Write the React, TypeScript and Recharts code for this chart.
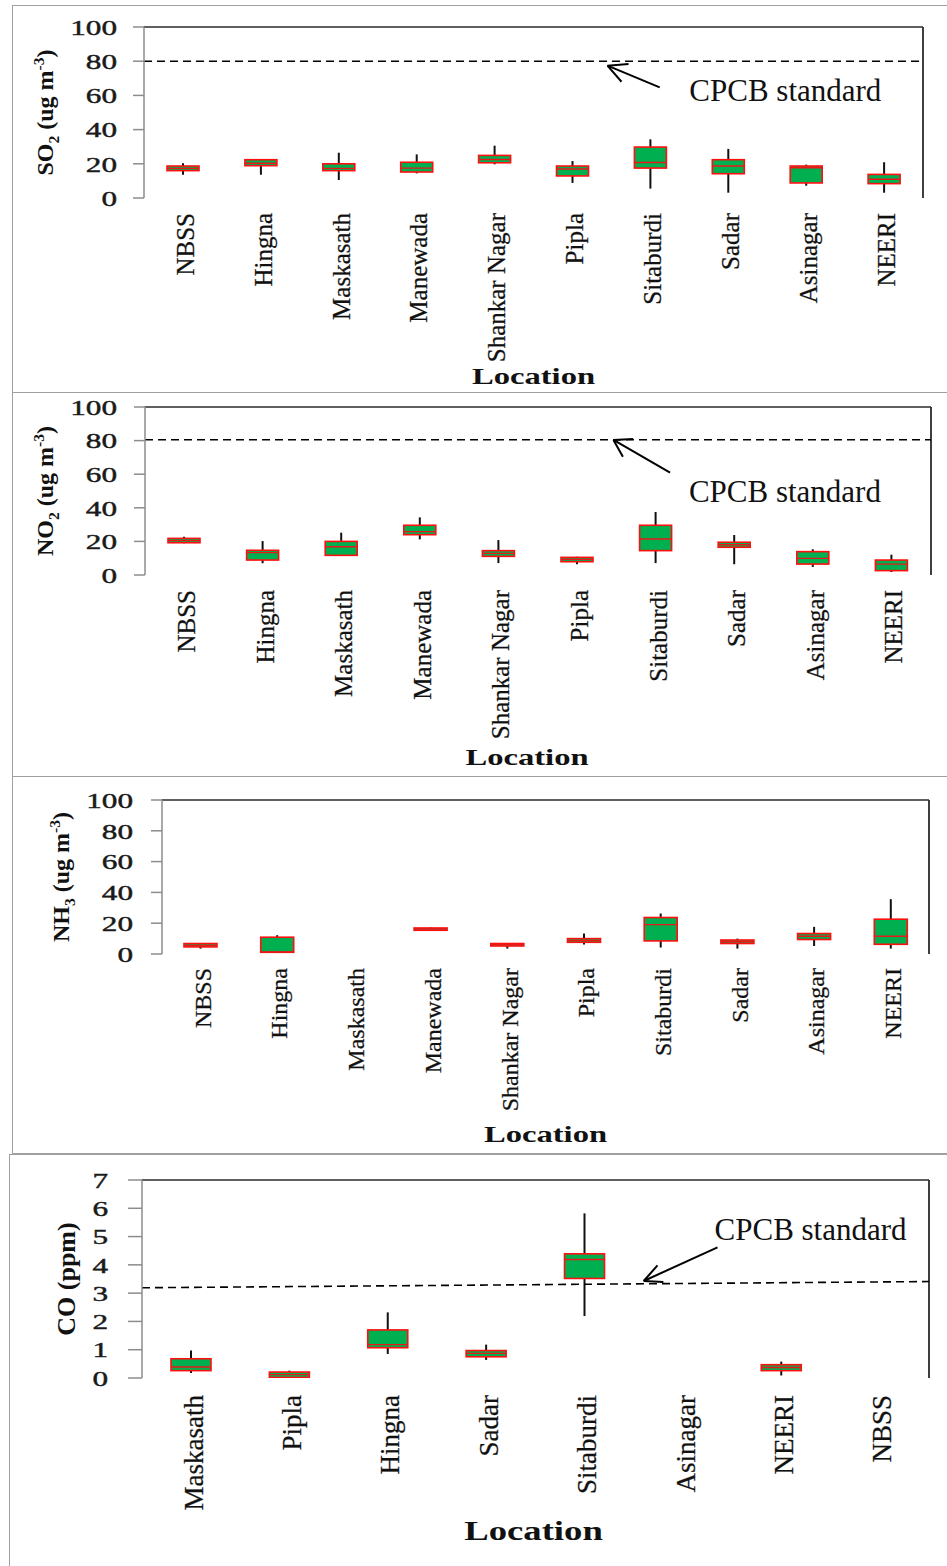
import React from 'react';
import { ComposedChart, Bar, XAxis, YAxis, ReferenceLine, ReferenceDot } from 'recharts';

const SERIF = '"Liberation Serif", "Times New Roman", serif';

// ---------- categories ----------
const LOCATIONS = ['NBSS', 'Hingna', 'Maskasath', 'Manewada', 'Shankar Nagar', 'Pipla', 'Sitaburdi', 'Sadar', 'Asinagar', 'NEERI'];
const CO_LOCATIONS = ['Maskasath', 'Pipla', 'Hingna', 'Sadar', 'Sitaburdi', 'Asinagar', 'NEERI', 'NBSS'];

// ---------- SO2 (ug m-3) ----------
const SO2_MIN = [13.6, 13.6, 10.5, 14.4, 19.7, 8.8, 5.5, 3.1, 7.2, 3.1];
const SO2_Q1 = [16.0, 18.9, 16.0, 15.2, 20.6, 12.9, 17.5, 14.2, 8.8, 8.4];
const SO2_MED = [17.3, 20.3, 17.3, 17.5, 22.5, 17.0, 20.8, 18.7, 17.7, 11.0];
const SO2_Q3 = [18.7, 22.4, 20.0, 20.9, 24.9, 18.7, 29.8, 22.4, 18.7, 13.8];
const SO2_MAX = [20.3, 22.8, 26.5, 25.5, 30.6, 21.6, 34.3, 28.7, 19.5, 20.9];

// ---------- NO2 (ug m-3) ----------
const NO2_MIN = [18.9, 7.0, 11.5, 21.2, 7.1, 6.4, 7.1, 6.4, 4.8, 1.8];
const NO2_Q1 = [19.2, 8.9, 11.7, 24.0, 11.1, 7.9, 14.5, 16.5, 6.5, 2.6];
const NO2_MED = [20.5, 13.3, 16.8, 25.8, 12.9, 9.3, 21.4, 18.0, 9.9, 6.5];
const NO2_Q3 = [21.8, 14.7, 20.0, 29.6, 14.5, 10.5, 29.6, 19.5, 13.9, 8.9];
const NO2_MAX = [22.8, 20.2, 25.2, 34.3, 20.8, 10.9, 37.5, 23.8, 15.3, 12.1];

// ---------- NH3 (ug m-3) ----------
const NH3_MIN = [3.5, 1.1, null, 15.4, 3.5, 6.1, 4.2, 3.5, 5.2, 3.5];
const NH3_Q1 = [4.6, 1.1, null, 15.4, 5.2, 7.6, 8.5, 6.8, 9.4, 6.3];
const NH3_MED = [5.6, 1.3, null, 16.2, 6.0, 8.8, 19.1, 8.0, 11.5, 11.5];
const NH3_Q3 = [6.8, 10.9, null, 16.9, 6.8, 10.0, 23.7, 9.1, 13.3, 22.6];
const NH3_MAX = [7.0, 12.2, null, 17.2, 7.0, 13.3, 26.3, 10.0, 17.6, 35.6];

// ---------- CO (ppm) ----------
const CO_MIN = [0.18, 0.0, 0.85, 0.64, 2.19, null, 0.09, null];
const CO_Q1 = [0.26, 0.02, 1.07, 0.75, 3.52, null, 0.26, null];
const CO_MED = [0.39, 0.12, 1.18, 0.87, 4.19, null, 0.37, null];
const CO_Q3 = [0.68, 0.21, 1.7, 0.97, 4.39, null, 0.47, null];
const CO_MAX = [0.97, 0.26, 2.32, 1.18, 5.82, null, 0.58, null];

// ---------- axis ticks ----------
const UG_TICKS = [0, 20, 40, 60, 80, 100];
const CO_TICKS = [0, 1, 2, 3, 4, 5, 6, 7];

// ---------- CPCB standard lines & annotations (x in category units 0..n, y in data units) ----------
const SO2_STD = [{ x: 0, y: 80 }, { x: 10, y: 80 }];
const NO2_STD = [{ x: 0, y: 80.5 }, { x: 10, y: 80.5 }];
const CO_STD = [{ x: 0, y: 3.19 }, { x: 8, y: 3.41 }];

const SO2_ARROW = { tail: { x: 6.62, y: 64.7 }, tip: { x: 5.95, y: 77.4 }, arm1: { x: 6.22, y: 78.4 }, arm2: { x: 6.13, y: 68.0 }, text: { x: 7.0, y: 56.7 } };
const NO2_ARROW = { tail: { x: 6.68, y: 60.9 }, tip: { x: 5.96, y: 80.4 }, arm1: { x: 6.21, y: 81.0 }, arm2: { x: 6.08, y: 70.4 }, text: { x: 6.92, y: 43.6 } };
const CO_ARROW = { tail: { x: 5.85, y: 4.62 }, tip: { x: 5.1, y: 3.43 }, arm1: { x: 5.24, y: 3.98 }, arm2: { x: 5.3, y: 3.39 }, text: { x: 5.82, y: 4.88 } };

type Row = { name: string; edge: number; min: number | null; q1: number | null; med: number | null; q3: number | null; max: number | null };

function buildRows(names: string[], mn: any[], q1: any[], med: any[], q3: any[], mx: any[]): Row[] {
  const n = names.length;
  // "edge" only spans the hidden positional axis from 0 to n (category boundaries)
  return names.map((name, i) => ({ name, edge: (i * n) / (n - 1), min: mn[i], q1: q1[i], med: med[i], q3: q3[i], max: mx[i] }));
}

const BoxShape = (props: any) => {
  const { x, y, width, height, payload } = props;
  if (!payload || payload.max == null || payload.min == null) return null;
  const top = Math.min(y, y + height);
  const h = Math.abs(height);
  const span = payload.max - payload.min;
  const py = (v: number) => (span > 0 ? top + (h * (payload.max - v)) / span : top);
  const cx = x + width / 2;
  const bTop = py(payload.q3);
  const bBot = py(payload.q1);
  const m = py(payload.med);
  return (
    <g>
      <line x1={cx} x2={cx} y1={py(payload.max)} y2={py(payload.min)} stroke="#111" strokeWidth={2} />
      <rect x={x} y={bTop} width={width} height={Math.max(bBot - bTop, 0.5)} fill="#00B050" stroke="#FF1010" strokeWidth={1.6} />
      <line x1={x} x2={x + width} y1={m} y2={m} stroke="#E81818" strokeWidth={1.4} />
    </g>
  );
};

type PanelProps = {
  rows: Row[];
  top: number;
  height: number;
  plotLeft: number;
  plotRight: number;
  plotTop: number;
  plotBottom: number;
  domain: [number, number];
  ticks: number[];
  barSize: number;
  yTickSize: number;
  yTickGap: number;
  xTickSize: number;
  catOffset: number;
  catFont: number;
  yLabel: (vb: any) => React.ReactNode;
  locOffset: number;
  locDx: number;
  locFont: number;
  std?: { x: number; y: number }[];
  arrow?: typeof SO2_ARROW;
};

const GRAY = '#8c8c8c';
const FRAME = '#2a2a2a';

function BoxPanel(p: PanelProps) {
  const n = p.rows.length;
  const W = 947;
  const catHeight = p.height - (p.plotBottom - p.top);
  const numTicks = p.rows.map((_, i) => i).concat([n]);

  const yTick = (t: any) => (
    <text
      transform={`translate(${t.x - p.yTickGap},${t.y}) scale(1.42,1)`}
      textAnchor="end"
      dy="0.35em"
      fontFamily={SERIF}
      fontSize={22}
      fill="#1a1a1a"
      stroke="#1a1a1a"
      strokeWidth={0.45}
    >
      {t.payload.value}
    </text>
  );

  const catTick = (t: any) => (
    <text
      transform={`translate(${t.x + 2},${t.y + p.catOffset}) rotate(-90)`}
      textAnchor="end"
      dy="0.35em"
      fontFamily={SERIF}
      fontSize={p.catFont}
      fill="#111"
      stroke="#111"
      strokeWidth={0.25}
    >
      {t.payload.value}
    </text>
  );

  const locLabel = (lp: any) => {
    const vb = lp.viewBox || {};
    return (
      <text
        transform={`translate(${vb.x + vb.width / 2 + p.locDx},${vb.y + p.locOffset}) scale(1.36,1)`}
        textAnchor="middle"
        fontFamily={SERIF}
        fontWeight="bold"
        fontSize={p.locFont}
        fill="#111"
      >
        Location
      </text>
    );
  };

  const yLab = (lp: any) => p.yLabel(lp.viewBox || {});

  const cpcbLabel = (lp: any) => {
    const vb = lp.viewBox || {};
    return (
      <text x={vb.x} y={vb.y} fontFamily={SERIF} fontSize={31} fill="#111">
        CPCB standard
      </text>
    );
  };

  const a = p.arrow;
  return (
    <div style={{ position: 'absolute', left: 0, top: p.top }}>
      <ComposedChart
        width={W}
        height={p.height}
        data={p.rows}
        margin={{ top: p.plotTop - p.top, right: W - p.plotRight, left: 0, bottom: 0 }}
      >
        <XAxis
          xAxisId="num"
          dataKey="edge"
          type="number"
          domain={[0, n]}
          ticks={numTicks}
          tick={false}
          tickSize={p.xTickSize}
          tickLine={{ stroke: GRAY, strokeWidth: 1.5 }}
          axisLine={{ stroke: GRAY, strokeWidth: 1.5 }}
          height={0}
          allowDataOverflow
        />
        <XAxis
          xAxisId="cat"
          dataKey="name"
          type="category"
          interval={0}
          axisLine={false}
          tickLine={false}
          tickSize={0}
          tickMargin={0}
          height={catHeight}
          tick={catTick}
          label={locLabel}
        />
        <YAxis
          type="number"
          domain={p.domain}
          ticks={p.ticks}
          interval={0}
          width={p.plotLeft}
          tickSize={p.yTickSize}
          tickMargin={0}
          tickLine={{ stroke: GRAY, strokeWidth: 1.5 }}
          axisLine={{ stroke: GRAY, strokeWidth: 1.5 }}
          tick={yTick}
          label={yLab}
          allowDataOverflow
        />
        {/* plot frame: top and right edges */}
        <ReferenceLine xAxisId="num" y={p.domain[1]} stroke={FRAME} strokeWidth={1.6} ifOverflow="visible" />
        <ReferenceLine xAxisId="num" x={n} stroke={FRAME} strokeWidth={1.8} ifOverflow="visible" />
        {p.std && (
          <ReferenceLine
            xAxisId="num"
            segment={p.std}
            stroke="#000"
            strokeWidth={1.6}
            strokeDasharray="8 5"
            ifOverflow="visible"
          />
        )}
        <Bar
          xAxisId="cat"
          dataKey={(d: Row) => (d.max == null || d.min == null ? null : [d.min, d.max])}
          barSize={p.barSize}
          shape={BoxShape}
          isAnimationActive={false}
        />
        {a && (
          <ReferenceLine xAxisId="num" segment={[a.tail, a.tip]} stroke="#000" strokeWidth={2} ifOverflow="visible" />
        )}
        {a && (
          <ReferenceLine xAxisId="num" segment={[a.tip, a.arm1]} stroke="#000" strokeWidth={2} ifOverflow="visible" />
        )}
        {a && (
          <ReferenceLine xAxisId="num" segment={[a.tip, a.arm2]} stroke="#000" strokeWidth={2} ifOverflow="visible" />
        )}
        {a && (
          <ReferenceDot
            xAxisId="num"
            x={a.text.x}
            y={a.text.y}
            r={0}
            fill="none"
            stroke="none"
            ifOverflow="visible"
            label={cpcbLabel}
          />
        )}
      </ComposedChart>
    </div>
  );
}

const ugLabel = (chem: string, sub: string, cx: number, fs: number) => (vb: any) => {
  const cy = (vb.y || 0) + (vb.height || 0) / 2;
  const x = (vb.x || 0) + cx;
  return (
    <text
      transform={`translate(${x},${cy}) rotate(-90)`}
      textAnchor="middle"
      dy="0.35em"
      fontFamily={SERIF}
      fontWeight="bold"
      fontSize={fs}
      fill="#111"
    >
      {chem}
      <tspan fontSize={fs * 0.65} dy={fs * 0.25}>
        {sub}
      </tspan>
      <tspan dy={-fs * 0.25}> (ug m</tspan>
      <tspan fontSize={fs * 0.65} dy={-fs * 0.4}>
        -3
      </tspan>
      <tspan dy={fs * 0.4}>)</tspan>
    </text>
  );
};

const coLabel = (cx: number, fs: number) => (vb: any) => {
  const cy = (vb.y || 0) + (vb.height || 0) / 2;
  const x = (vb.x || 0) + cx;
  return (
    <text
      transform={`translate(${x},${cy}) rotate(-90)`}
      textAnchor="middle"
      dy="0.35em"
      fontFamily={SERIF}
      fontWeight="bold"
      fontSize={fs}
      fill="#111"
    >
      CO (ppm)
    </text>
  );
};

const borderStyle = (left: number, top: number, height: number): React.CSSProperties => ({
  position: 'absolute',
  left,
  top,
  width: 1000,
  height,
  border: '1.5px solid #a0a0a0',
  boxSizing: 'border-box',
});

export default function App() {
  const so2 = buildRows(LOCATIONS, SO2_MIN, SO2_Q1, SO2_MED, SO2_Q3, SO2_MAX);
  const no2 = buildRows(LOCATIONS, NO2_MIN, NO2_Q1, NO2_MED, NO2_Q3, NO2_MAX);
  const nh3 = buildRows(LOCATIONS, NH3_MIN, NH3_Q1, NH3_MED, NH3_Q3, NH3_MAX);
  const co = buildRows(CO_LOCATIONS, CO_MIN, CO_Q1, CO_MED, CO_Q3, CO_MAX);

  return (
    <div
      style={{
        position: 'absolute',
        left: 0,
        top: 0,
        width: 947,
        height: 1566,
        overflow: 'hidden',
        background: '#fff',
      }}
    >
      <div style={borderStyle(12, 5, 388)} />
      <div style={borderStyle(12, 392, 385)} />
      <div style={borderStyle(12, 776, 378)} />
      <div style={borderStyle(9, 1154, 430)} />

      <BoxPanel
        rows={so2}
        top={5}
        height={387}
        plotLeft={144}
        plotRight={923}
        plotTop={27}
        plotBottom={198}
        domain={[0, 100]}
        ticks={UG_TICKS}
        barSize={32}
        yTickSize={11}
        yTickGap={16}
        xTickSize={7}
        catOffset={15}
        catFont={25}
        yLabel={ugLabel('SO', '2', 45, 24)}
        locOffset={186}
        locDx={0}
        locFont={24}
        std={SO2_STD}
        arrow={SO2_ARROW}
      />
      <BoxPanel
        rows={no2}
        top={393}
        height={383}
        plotLeft={145}
        plotRight={931}
        plotTop={407}
        plotBottom={575}
        domain={[0, 100]}
        ticks={UG_TICKS}
        barSize={32}
        yTickSize={11}
        yTickGap={17}
        xTickSize={7}
        catOffset={15}
        catFont={25}
        yLabel={ugLabel('NO', '2', 45, 24)}
        locOffset={190}
        locDx={-11}
        locFont={24}
        std={NO2_STD}
        arrow={NO2_ARROW}
      />
      <BoxPanel
        rows={nh3}
        top={777}
        height={375}
        plotLeft={162}
        plotRight={929}
        plotTop={800}
        plotBottom={954}
        domain={[0, 100]}
        ticks={UG_TICKS}
        barSize={33}
        yTickSize={11}
        yTickGap={18}
        xTickSize={7}
        catOffset={14}
        catFont={24}
        yLabel={ugLabel('NH', '3', 61, 24)}
        locOffset={188}
        locDx={0}
        locFont={24}
      />
      <BoxPanel
        rows={co}
        top={1155}
        height={411}
        plotLeft={142}
        plotRight={929}
        plotTop={1180}
        plotBottom={1378}
        domain={[0, 7]}
        ticks={CO_TICKS}
        barSize={40}
        yTickSize={14}
        yTickGap={20}
        xTickSize={9}
        catOffset={17}
        catFont={27}
        yLabel={coLabel(66, 26)}
        locOffset={162}
        locDx={-2}
        locFont={27}
        std={CO_STD}
        arrow={CO_ARROW}
      />
    </div>
  );
}
